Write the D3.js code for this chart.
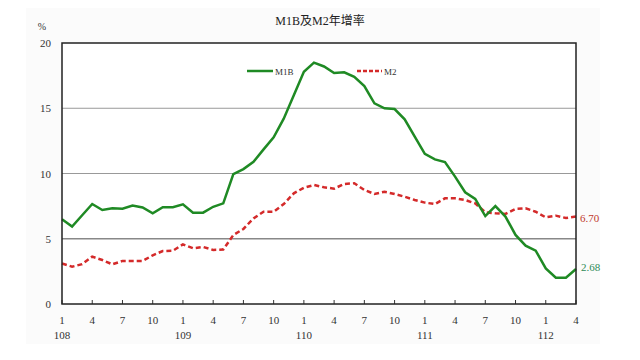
<!DOCTYPE html>
<html><head><meta charset="utf-8">
<script src="https://cdn.jsdelivr.net/npm/d3@7"></script>
<style>body{margin:0;background:#fff}svg{display:block}text{font-family:"Liberation Serif","DejaVu Serif","Noto Sans CJK TC",serif}</style>
</head><body><svg id="c" width="640" height="360"></svg>
<script>
const titleText = "M1B及M2年增率";
const years = ["108","109","110","111","112"];
const monthLabels = ["1","4","7","10"];
const m1b = [6.49,5.93,6.8,7.66,7.2,7.33,7.3,7.54,7.4,6.95,7.42,7.42,7.64,7.0,7.0,7.45,
  7.71,9.96,10.34,10.9,11.85,12.77,14.2,16.0,17.8,18.5,18.2,17.7,17.75,17.4,16.7,15.38,
  15.0,14.94,14.15,12.82,11.5,11.08,10.88,9.76,8.56,8.05,6.74,7.5,6.7,5.29,4.47,4.09,
  2.73,2.02,2.02,2.68];
const m2 = [3.1,2.86,3.05,3.63,3.37,3.04,3.3,3.3,3.3,3.73,4.06,4.08,4.57,4.27,4.37,4.14,
  4.17,5.29,5.75,6.56,7.07,7.07,7.66,8.48,8.91,9.12,8.94,8.84,9.2,9.25,8.74,8.43,
  8.6,8.43,8.22,7.97,7.77,7.66,8.1,8.1,7.97,7.71,7.03,6.95,6.9,7.28,7.33,7.07,
  6.64,6.77,6.59,6.70];
const yTicks = [0,5,10,15,20];
const seriesNames = ["M1B","M2"];

const svg = d3.select("#c");
svg.append("rect").attr("x",26).attr("y",8).attr("width",574).attr("height",336).attr("fill","#fbfbfb");
const L=62,R=576,T=43,B=304;
const x = d3.scaleLinear().domain([0,m1b.length-1]).range([L,R]);
const y = d3.scaleLinear().domain([0,20]).range([B,T]);

svg.append("rect").attr("x",L).attr("y",T).attr("width",R-L).attr("height",B-T).attr("fill","#fff");
// grid
svg.selectAll(".g").data([5,10,15]).enter().append("line")
  .attr("x1",L).attr("x2",R).attr("y1",d=>y(d)).attr("y2",d=>y(d))
  .attr("stroke",d=>d===5?"#888":"#999").attr("stroke-width",d=>d===5?1.5:1);

// y axis labels
svg.selectAll(".yt").data(yTicks).enter().append("text")
  .attr("x",51).attr("y",d=>y(d)+4).attr("text-anchor","end")
  .attr("font-size",11).attr("fill","#333").text(d=>d);
svg.append("text").attr("x",42).attr("y",30).attr("text-anchor","middle").attr("font-size",10).attr("fill","#333").text("%");

// x ticks
const tickIdx = d3.range(0,m1b.length,3);
svg.selectAll(".xt").data(tickIdx).enter().append("line")
  .attr("x1",d=>x(d)).attr("x2",d=>x(d)).attr("y1",B).attr("y2",B-4).attr("stroke","#333").attr("stroke-width",1);
svg.selectAll(".xl").data(tickIdx).enter().append("text")
  .attr("x",d=>x(d)).attr("y",324).attr("text-anchor","middle").attr("font-size",11).attr("fill","#333")
  .text(d=>monthLabels[(d%12)/3]);
svg.selectAll(".yl").data(years).enter().append("text")
  .attr("x",(d,i)=>x(i*12)).attr("y",339).attr("text-anchor","middle").attr("font-size",11).attr("fill","#333")
  .text(d=>d);

// lines
const line = d3.line().x((d,i)=>x(i)).y(d=>y(d));
svg.append("path").datum(m2).attr("d",line).attr("fill","none").attr("stroke","#d42a2a")
  .attr("stroke-width",2.5).attr("stroke-dasharray","5,3");
svg.append("path").datum(m1b).attr("d",line).attr("fill","none").attr("stroke","#1f8a24")
  .attr("stroke-width",2.5);

// frame
svg.append("rect").attr("x",L).attr("y",T).attr("width",R-L).attr("height",B-T)
  .attr("fill","none").attr("stroke","#222").attr("stroke-width",1.5);

// end labels
svg.append("text").attr("x",580).attr("y",y(m2[m2.length-1])+5).attr("font-size",11).attr("fill","#c0392b").text(m2[m2.length-1].toFixed(2));
svg.append("text").attr("x",581).attr("y",y(m1b[m1b.length-1])+2).attr("font-size",11).attr("fill","#2e8b57").text(m1b[m1b.length-1].toFixed(2));

// legend
svg.append("line").attr("x1",247).attr("x2",273).attr("y1",71).attr("y2",71).attr("stroke","#1f8a24").attr("stroke-width",2.5);
svg.append("text").attr("x",275).attr("y",74.5).attr("font-size",9).attr("fill","#333").text(seriesNames[0]);
svg.append("line").attr("x1",357).attr("x2",382).attr("y1",71).attr("y2",71).attr("stroke","#d42a2a").attr("stroke-width",2.5).attr("stroke-dasharray","4,2");
svg.append("text").attr("x",384).attr("y",74.5).attr("font-size",9).attr("fill","#333").text(seriesNames[1]);

// title
svg.append("text").attr("x",320).attr("y",25).attr("text-anchor","middle").attr("font-size",12).attr("fill","#222").text(titleText);
</script></body></html>
